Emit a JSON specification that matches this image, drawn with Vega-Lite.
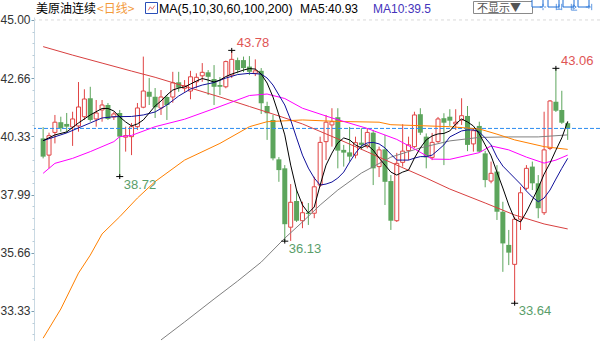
{
"$schema":"https://vega.github.io/schema/vega-lite/v6.json",
"width":566,"height":324,
"padding":{"left":34,"top":17,"right":0,"bottom":0},
"autosize":{"type":"none"},
"background":"white",
"config":{"view":{"stroke":null}},
"resolve":{"axis":{"y":"independent"}},
"datasets":{
"k":[
{"i":0,"o":40.25,"h":40.70,"l":39.45,"c":39.52},
{"i":1,"o":39.58,"h":40.48,"l":39.05,"c":40.36},
{"i":2,"o":40.49,"h":41.19,"l":40.05,"c":40.90},
{"i":3,"o":40.90,"h":41.12,"l":40.52,"c":40.66},
{"i":4,"o":40.83,"h":41.27,"l":40.47,"c":40.72},
{"i":5,"o":40.71,"h":41.32,"l":39.95,"c":41.03},
{"i":6,"o":40.75,"h":42.51,"l":40.52,"c":41.51},
{"i":7,"o":41.12,"h":42.22,"l":40.99,"c":41.83},
{"i":8,"o":41.86,"h":42.32,"l":40.92,"c":40.99},
{"i":9,"o":41.03,"h":41.79,"l":40.72,"c":41.27},
{"i":10,"o":41.39,"h":41.79,"l":40.92,"c":41.59},
{"i":11,"o":41.59,"h":41.67,"l":40.99,"c":41.03},
{"i":12,"o":41.11,"h":41.31,"l":40.99,"c":41.23},
{"i":13,"o":41.27,"h":41.39,"l":38.72,"c":40.32},
{"i":14,"o":40.30,"h":40.72,"l":39.72,"c":40.36},
{"i":15,"o":40.32,"h":40.87,"l":39.58,"c":40.72},
{"i":16,"o":40.72,"h":41.67,"l":40.59,"c":41.47},
{"i":17,"o":41.50,"h":43.53,"l":41.46,"c":42.15},
{"i":18,"o":42.12,"h":42.67,"l":41.59,"c":41.92},
{"i":19,"o":41.92,"h":42.27,"l":41.07,"c":41.50},
{"i":20,"o":41.47,"h":42.19,"l":41.19,"c":41.91},
{"i":21,"o":41.91,"h":41.99,"l":40.99,"c":41.59},
{"i":22,"o":41.91,"h":42.92,"l":41.68,"c":42.48},
{"i":23,"o":42.50,"h":42.92,"l":42.12,"c":42.28},
{"i":24,"o":42.26,"h":42.59,"l":42.12,"c":42.36},
{"i":25,"o":42.15,"h":42.96,"l":41.82,"c":42.72},
{"i":26,"o":42.52,"h":42.86,"l":42.26,"c":42.70},
{"i":27,"o":42.76,"h":43.27,"l":42.52,"c":42.90},
{"i":28,"o":42.90,"h":42.99,"l":41.99,"c":42.72},
{"i":29,"o":42.63,"h":43.19,"l":41.59,"c":42.32},
{"i":30,"o":42.39,"h":42.71,"l":41.99,"c":42.32},
{"i":31,"o":42.32,"h":43.37,"l":42.26,"c":43.33},
{"i":32,"o":42.79,"h":43.78,"l":42.67,"c":43.42},
{"i":33,"o":43.39,"h":43.49,"l":42.86,"c":42.99},
{"i":34,"o":43.39,"h":43.53,"l":42.91,"c":43.07},
{"i":35,"o":43.13,"h":43.55,"l":42.79,"c":42.92},
{"i":36,"o":42.86,"h":43.42,"l":42.75,"c":42.96},
{"i":37,"o":42.96,"h":43.07,"l":41.23,"c":41.66},
{"i":38,"o":41.55,"h":41.72,"l":40.19,"c":41.26},
{"i":39,"o":40.99,"h":41.19,"l":39.37,"c":39.45},
{"i":40,"o":39.41,"h":39.50,"l":38.51,"c":38.98},
{"i":41,"o":39.05,"h":39.18,"l":36.13,"c":36.81},
{"i":42,"o":36.69,"h":38.42,"l":36.14,"c":37.69},
{"i":43,"o":37.74,"h":38.18,"l":36.90,"c":36.95},
{"i":44,"o":36.95,"h":37.71,"l":36.65,"c":37.27},
{"i":45,"o":37.27,"h":37.66,"l":36.78,"c":37.22},
{"i":46,"o":37.25,"h":38.71,"l":37.05,"c":38.31},
{"i":47,"o":38.38,"h":40.32,"l":38.30,"c":40.09},
{"i":48,"o":40.12,"h":41.19,"l":39.38,"c":40.90},
{"i":49,"o":40.79,"h":41.46,"l":39.92,"c":40.92},
{"i":50,"o":41.10,"h":41.46,"l":39.05,"c":39.76},
{"i":51,"o":39.79,"h":39.99,"l":39.12,"c":39.68},
{"i":52,"o":39.69,"h":40.71,"l":39.32,"c":39.52},
{"i":53,"o":39.58,"h":40.32,"l":39.45,"c":40.08},
{"i":54,"o":40.08,"h":40.66,"l":39.79,"c":39.99},
{"i":55,"o":39.92,"h":40.66,"l":39.85,"c":40.49},
{"i":56,"o":40.48,"h":40.59,"l":38.38,"c":39.05},
{"i":57,"o":39.12,"h":39.92,"l":38.70,"c":39.79},
{"i":58,"o":39.81,"h":40.39,"l":37.58,"c":38.51},
{"i":59,"o":38.54,"h":38.78,"l":36.58,"c":36.95},
{"i":60,"o":36.95,"h":39.67,"l":36.90,"c":39.25},
{"i":61,"o":39.29,"h":40.82,"l":39.12,"c":39.74},
{"i":62,"o":39.76,"h":40.32,"l":39.38,"c":39.99},
{"i":63,"o":39.92,"h":41.32,"l":39.87,"c":41.19},
{"i":64,"o":41.22,"h":41.46,"l":40.39,"c":40.48},
{"i":65,"o":40.32,"h":40.45,"l":39.05,"c":39.49},
{"i":66,"o":39.49,"h":40.47,"l":39.38,"c":40.09},
{"i":67,"o":40.12,"h":41.11,"l":40.07,"c":41.03},
{"i":68,"o":41.06,"h":41.26,"l":39.18,"c":40.88},
{"i":69,"o":41.12,"h":41.42,"l":40.75,"c":40.96},
{"i":70,"o":40.83,"h":41.42,"l":40.59,"c":40.90},
{"i":71,"o":40.99,"h":41.86,"l":40.79,"c":41.16},
{"i":72,"o":41.15,"h":41.55,"l":39.74,"c":39.99},
{"i":73,"o":40.03,"h":40.66,"l":39.72,"c":40.56},
{"i":74,"o":40.75,"h":40.92,"l":39.70,"c":39.72},
{"i":75,"o":39.65,"h":39.75,"l":38.29,"c":38.58},
{"i":76,"o":38.54,"h":39.32,"l":38.45,"c":38.85},
{"i":77,"o":38.92,"h":39.18,"l":36.98,"c":37.31},
{"i":78,"o":37.31,"h":37.71,"l":34.90,"c":36.04},
{"i":79,"o":35.98,"h":36.58,"l":35.17,"c":35.67},
{"i":80,"o":35.20,"h":37.11,"l":33.64,"c":37.01},
{"i":81,"o":37.01,"h":38.31,"l":36.58,"c":38.07},
{"i":82,"o":38.25,"h":39.18,"l":38.18,"c":39.05},
{"i":83,"o":39.12,"h":39.32,"l":38.18,"c":38.45},
{"i":84,"o":38.45,"h":38.78,"l":37.05,"c":37.45},
{"i":85,"o":37.27,"h":41.32,"l":37.18,"c":39.79},
{"i":86,"o":39.85,"h":41.79,"l":39.78,"c":41.75},
{"i":87,"o":41.72,"h":43.06,"l":41.31,"c":41.36},
{"i":88,"o":41.39,"h":42.16,"l":40.83,"c":40.88},
{"i":89,"o":40.86,"h":40.92,"l":40.19,"c":40.66}
],
"ma":[
{"m":"MA200","i":0,"v":43.93},{"m":"MA200","i":5,"v":43.59},{"m":"MA200","i":10,"v":43.27},{"m":"MA200","i":15,"v":42.95},{"m":"MA200","i":19,"v":42.70},{"m":"MA200","i":25,"v":42.27},{"m":"MA200","i":30,"v":41.91},{"m":"MA200","i":35,"v":41.53},{"m":"MA200","i":40,"v":41.15},{"m":"MA200","i":44,"v":40.83},{"m":"MA200","i":50,"v":40.23},{"m":"MA200","i":55,"v":39.71},{"m":"MA200","i":60,"v":39.18},{"m":"MA200","i":65,"v":38.66},{"m":"MA200","i":69,"v":38.22},{"m":"MA200","i":75,"v":37.66},{"m":"MA200","i":80,"v":37.18},{"m":"MA200","i":85,"v":36.82},{"m":"MA200","i":89,"v":36.62},
{"m":"MA100","i":20,"v":32.17},{"m":"MA100","i":24,"v":32.89},{"m":"MA100","i":29,"v":33.81},{"m":"MA100","i":33,"v":34.53},{"m":"MA100","i":37,"v":35.29},{"m":"MA100","i":41,"v":36.25},{"m":"MA100","i":44,"v":36.90},{"m":"MA100","i":47,"v":37.58},{"m":"MA100","i":50,"v":38.18},{"m":"MA100","i":54,"v":38.86},{"m":"MA100","i":59,"v":39.50},{"m":"MA100","i":64,"v":39.87},{"m":"MA100","i":69,"v":40.15},{"m":"MA100","i":74,"v":40.29},{"m":"MA100","i":79,"v":40.31},{"m":"MA100","i":84,"v":40.31},{"m":"MA100","i":89,"v":40.39},
{"m":"MA60","i":0,"v":32.24},{"m":"MA60","i":3,"v":33.41},{"m":"MA60","i":6,"v":34.85},{"m":"MA60","i":8,"v":35.57},{"m":"MA60","i":10,"v":36.42},{"m":"MA60","i":13,"v":37.11},{"m":"MA60","i":16,"v":37.86},{"m":"MA60","i":19,"v":38.52},{"m":"MA60","i":24,"v":39.38},{"m":"MA60","i":30,"v":40.05},{"m":"MA60","i":35,"v":40.72},{"m":"MA60","i":38,"v":40.92},{"m":"MA60","i":44,"v":40.99},{"m":"MA60","i":50,"v":40.93},{"m":"MA60","i":57,"v":40.90},{"m":"MA60","i":59,"v":40.80},{"m":"MA60","i":69,"v":40.72},{"m":"MA60","i":74,"v":40.63},{"m":"MA60","i":77,"v":40.42},{"m":"MA60","i":80,"v":40.19},{"m":"MA60","i":85,"v":39.92},{"m":"MA60","i":89,"v":39.81},
{"m":"MA30","i":0,"v":38.85},{"m":"MA30","i":2,"v":39.25},{"m":"MA30","i":5,"v":39.45},{"m":"MA30","i":8,"v":39.72},{"m":"MA30","i":12,"v":40.12},{"m":"MA30","i":13,"v":40.32},{"m":"MA30","i":15,"v":40.37},{"m":"MA30","i":19,"v":40.72},{"m":"MA30","i":24,"v":41.02},{"m":"MA30","i":30,"v":41.53},{"m":"MA30","i":35,"v":41.97},{"m":"MA30","i":38,"v":42.03},{"m":"MA30","i":41,"v":41.85},{"m":"MA30","i":44,"v":41.46},{"m":"MA30","i":49,"v":41.07},{"m":"MA30","i":55,"v":40.65},{"m":"MA30","i":60,"v":40.21},{"m":"MA30","i":63,"v":39.83},{"m":"MA30","i":66,"v":39.42},{"m":"MA30","i":69,"v":39.41},{"m":"MA30","i":74,"v":39.68},{"m":"MA30","i":76,"v":39.95},{"m":"MA30","i":79,"v":39.79},{"m":"MA30","i":82,"v":39.50},{"m":"MA30","i":85,"v":39.26},{"m":"MA30","i":87,"v":39.38},{"m":"MA30","i":89,"v":39.58},
{"m":"MA10","i":0,"v":40.16},{"m":"MA10","i":4,"v":40.47},{"m":"MA10","i":6,"v":40.67},{"m":"MA10","i":8,"v":40.87},{"m":"MA10","i":10,"v":41.07},{"m":"MA10","i":12,"v":41.12},{"m":"MA10","i":15,"v":41.13},{"m":"MA10","i":17,"v":41.19},{"m":"MA10","i":19,"v":41.31},{"m":"MA10","i":21,"v":41.59},{"m":"MA10","i":23,"v":41.95},{"m":"MA10","i":25,"v":42.23},{"m":"MA10","i":27,"v":42.39},{"m":"MA10","i":29,"v":42.49},{"m":"MA10","i":31,"v":42.67},{"m":"MA10","i":33,"v":42.81},{"m":"MA10","i":35,"v":42.86},{"m":"MA10","i":37,"v":42.83},{"m":"MA10","i":38,"v":42.67},{"m":"MA10","i":39,"v":42.39},{"m":"MA10","i":40,"v":41.99},{"m":"MA10","i":41,"v":41.59},{"m":"MA10","i":42,"v":40.99},{"m":"MA10","i":43,"v":40.27},{"m":"MA10","i":44,"v":39.58},{"m":"MA10","i":45,"v":39.06},{"m":"MA10","i":46,"v":38.66},{"m":"MA10","i":47,"v":38.38},{"m":"MA10","i":48,"v":38.42},{"m":"MA10","i":49,"v":38.50},{"m":"MA10","i":50,"v":38.66},{"m":"MA10","i":51,"v":38.90},{"m":"MA10","i":52,"v":39.30},{"m":"MA10","i":53,"v":39.66},{"m":"MA10","i":54,"v":39.95},{"m":"MA10","i":55,"v":40.07},{"m":"MA10","i":56,"v":40.09},{"m":"MA10","i":57,"v":40.03},{"m":"MA10","i":58,"v":39.87},{"m":"MA10","i":59,"v":39.62},{"m":"MA10","i":60,"v":39.38},{"m":"MA10","i":61,"v":39.38},{"m":"MA10","i":62,"v":39.38},{"m":"MA10","i":63,"v":39.46},{"m":"MA10","i":64,"v":39.52},{"m":"MA10","i":65,"v":39.52},{"m":"MA10","i":66,"v":39.58},{"m":"MA10","i":67,"v":39.78},{"m":"MA10","i":68,"v":39.99},{"m":"MA10","i":69,"v":40.31},{"m":"MA10","i":70,"v":40.43},{"m":"MA10","i":71,"v":40.55},{"m":"MA10","i":72,"v":40.59},{"m":"MA10","i":73,"v":40.59},{"m":"MA10","i":74,"v":40.51},{"m":"MA10","i":75,"v":40.27},{"m":"MA10","i":76,"v":39.99},{"m":"MA10","i":77,"v":39.50},{"m":"MA10","i":78,"v":39.14},{"m":"MA10","i":79,"v":38.90},{"m":"MA10","i":80,"v":38.66},{"m":"MA10","i":81,"v":38.42},{"m":"MA10","i":82,"v":38.14},{"m":"MA10","i":83,"v":37.90},{"m":"MA10","i":84,"v":37.71},{"m":"MA10","i":85,"v":37.86},{"m":"MA10","i":86,"v":38.18},{"m":"MA10","i":87,"v":38.62},{"m":"MA10","i":88,"v":39.05},{"m":"MA10","i":89,"v":39.45},
{"m":"MA5","i":0,"v":40.16},{"m":"MA5","i":2,"v":40.39},{"m":"MA5","i":4,"v":40.51},{"m":"MA5","i":6,"v":40.87},{"m":"MA5","i":8,"v":41.19},{"m":"MA5","i":10,"v":41.45},{"m":"MA5","i":11,"v":41.45},{"m":"MA5","i":12,"v":41.35},{"m":"MA5","i":13,"v":41.11},{"m":"MA5","i":14,"v":40.91},{"m":"MA5","i":15,"v":40.75},{"m":"MA5","i":16,"v":40.83},{"m":"MA5","i":17,"v":40.99},{"m":"MA5","i":18,"v":41.27},{"m":"MA5","i":19,"v":41.55},{"m":"MA5","i":20,"v":41.75},{"m":"MA5","i":21,"v":41.99},{"m":"MA5","i":22,"v":42.19},{"m":"MA5","i":23,"v":42.27},{"m":"MA5","i":24,"v":42.31},{"m":"MA5","i":25,"v":42.43},{"m":"MA5","i":26,"v":42.55},{"m":"MA5","i":27,"v":42.65},{"m":"MA5","i":28,"v":42.59},{"m":"MA5","i":29,"v":42.51},{"m":"MA5","i":30,"v":42.59},{"m":"MA5","i":31,"v":42.73},{"m":"MA5","i":32,"v":42.83},{"m":"MA5","i":33,"v":42.91},{"m":"MA5","i":34,"v":42.99},{"m":"MA5","i":35,"v":43.05},{"m":"MA5","i":36,"v":43.03},{"m":"MA5","i":37,"v":42.83},{"m":"MA5","i":38,"v":42.47},{"m":"MA5","i":39,"v":41.91},{"m":"MA5","i":40,"v":41.19},{"m":"MA5","i":41,"v":40.39},{"m":"MA5","i":42,"v":39.18},{"m":"MA5","i":43,"v":38.18},{"m":"MA5","i":44,"v":37.58},{"m":"MA5","i":45,"v":37.26},{"m":"MA5","i":46,"v":37.50},{"m":"MA5","i":47,"v":38.38},{"m":"MA5","i":48,"v":39.18},{"m":"MA5","i":49,"v":39.66},{"m":"MA5","i":50,"v":40.07},{"m":"MA5","i":51,"v":40.27},{"m":"MA5","i":52,"v":40.19},{"m":"MA5","i":53,"v":39.99},{"m":"MA5","i":54,"v":39.87},{"m":"MA5","i":55,"v":39.99},{"m":"MA5","i":56,"v":39.78},{"m":"MA5","i":57,"v":39.46},{"m":"MA5","i":58,"v":39.18},{"m":"MA5","i":59,"v":38.90},{"m":"MA5","i":60,"v":38.78},{"m":"MA5","i":61,"v":38.90},{"m":"MA5","i":62,"v":38.98},{"m":"MA5","i":63,"v":39.46},{"m":"MA5","i":64,"v":39.87},{"m":"MA5","i":65,"v":40.19},{"m":"MA5","i":66,"v":40.35},{"m":"MA5","i":67,"v":40.43},{"m":"MA5","i":68,"v":40.45},{"m":"MA5","i":69,"v":40.55},{"m":"MA5","i":70,"v":40.83},{"m":"MA5","i":71,"v":41.03},{"m":"MA5","i":72,"v":40.91},{"m":"MA5","i":73,"v":40.75},{"m":"MA5","i":74,"v":40.43},{"m":"MA5","i":75,"v":39.99},{"m":"MA5","i":76,"v":39.55},{"m":"MA5","i":77,"v":38.90},{"m":"MA5","i":78,"v":38.26},{"m":"MA5","i":79,"v":37.58},{"m":"MA5","i":80,"v":37.02},{"m":"MA5","i":81,"v":36.90},{"m":"MA5","i":82,"v":37.30},{"m":"MA5","i":83,"v":37.78},{"m":"MA5","i":84,"v":38.26},{"m":"MA5","i":85,"v":38.82},{"m":"MA5","i":86,"v":39.26},{"m":"MA5","i":87,"v":39.78},{"m":"MA5","i":88,"v":40.27},{"m":"MA5","i":89,"v":40.93}
],
"ext":[
{"i":13,"v":38.72,"k":"low"},{"i":32,"v":43.78,"k":"high"},{"i":41,"v":36.13,"k":"low"},{"i":80,"v":33.64,"k":"low"},{"i":87,"v":43.06,"k":"high"}
]
},
"layer":[
{"data":{"values":[{"v":45}]},
 "mark":{"type":"rule","color":"#d9d9d9","strokeDash":[3,3],"strokeWidth":1},
 "encoding":{"y":{"field":"v","type":"quantitative","title":null,
   "scale":{"domain":[32.127,45.118],"nice":false,"zero":false},
   "axis":{"orient":"left","title":null,"grid":false,
     "values":[45,42.66,40.33,37.99,35.66,33.33],"format":".2f",
     "labelOverlap":false,"labelFont":"Liberation Sans","labelFontSize":12,"labelColor":"#333333","labelPadding":1,
     "domainColor":"#c9d9e3","domainWidth":1,"tickColor":"#7d9db0","tickSize":3}}}},
{"data":{"values":[{"v":40.65}]},
 "mark":{"type":"rule","color":"#2b8cf0","strokeDash":[4,2],"strokeWidth":1,"opacity":0},
 "encoding":{"y":{"field":"v","type":"quantitative","title":null,"scale":{"domain":[32.127,45.118],"nice":false,"zero":false},
   "axis":{"orient":"left","title":null,"grid":false,"labels":false,"domain":false,
     "values":[44.533,44.067,43.6,43.133,42.2,41.733,41.267,40.8,39.867,39.4,38.933,38.467,37.533,37.067,36.6,36.133,35.2,34.733,34.267,33.8,32.867,32.4],
     "tickColor":"#b9ccd8","tickSize":2}}}},
{"data":{"name":"k"},"transform":[{"filter":"datum.c < datum.o"}],
 "mark":{"type":"rule","color":"#5ca55c","strokeWidth":1},
 "encoding":{"x":{"field":"i","type":"quantitative","axis":null,"scale":{"domain":[-0.7,93.633],"nice":false,"zero":false}},
   "y":{"field":"l","type":"quantitative","axis":null,"scale":{"domain":[32.127,45.118],"nice":false,"zero":false}},
   "y2":{"field":"h"}}},
{"data":{"name":"k"},"transform":[{"filter":"datum.c >= datum.o"}],
 "mark":{"type":"rule","color":"#e04444","strokeWidth":1},
 "encoding":{"x":{"field":"i","type":"quantitative","axis":null,"scale":{"domain":[-0.7,93.633],"nice":false,"zero":false}},
   "y":{"field":"l","type":"quantitative","axis":null,"scale":{"domain":[32.127,45.118],"nice":false,"zero":false}},
   "y2":{"field":"h"}}},
{"data":{"name":"k"},"transform":[{"filter":"datum.c < datum.o"}],
 "mark":{"type":"bar","color":"#5ca55c","size":5},
 "encoding":{"x":{"field":"i","type":"quantitative","axis":null,"scale":{"domain":[-0.7,93.633],"nice":false,"zero":false}},
   "y":{"field":"o","type":"quantitative","axis":null,"scale":{"domain":[32.127,45.118],"nice":false,"zero":false}},
   "y2":{"field":"c"}}},
{"data":{"name":"k"},"transform":[{"filter":"datum.c >= datum.o"}],
 "mark":{"type":"bar","fill":"#ffffff","stroke":"#e04444","strokeWidth":1,"size":4},
 "encoding":{"x":{"field":"i","type":"quantitative","axis":null,"scale":{"domain":[-0.7,93.633],"nice":false,"zero":false}},
   "y":{"field":"o","type":"quantitative","axis":null,"scale":{"domain":[32.127,45.118],"nice":false,"zero":false}},
   "y2":{"field":"c"}}},
{"data":{"values":[{"v":40.65}]},
 "mark":{"type":"rule","color":"#2b8cf0","strokeDash":[4,2],"strokeWidth":1},
 "encoding":{"y":{"field":"v","type":"quantitative","axis":null,"scale":{"domain":[32.127,45.118],"nice":false,"zero":false}}}},
{"data":{"name":"ma"},
 "mark":{"type":"line","strokeWidth":1,"clip":true},
 "encoding":{"x":{"field":"i","type":"quantitative","axis":null,"scale":{"domain":[-0.7,93.633],"nice":false,"zero":false}},
   "y":{"field":"v","type":"quantitative","axis":null,"scale":{"domain":[32.127,45.118],"nice":false,"zero":false}},
   "color":{"field":"m","type":"nominal","legend":null,
     "scale":{"domain":["MA5","MA10","MA30","MA60","MA100","MA200"],"range":["#000000","#10109a","#ff00ff","#ff8000","#808080","#d84040"]}},
   "order":{"field":"i","type":"quantitative"}}},
{"data":{"name":"ext"},
 "mark":{"type":"point","shape":"M-1,0L1,0M0,-0.7L0,0.7","size":49,"filled":false,"stroke":"#000000","strokeWidth":1,"opacity":1},
 "encoding":{"x":{"field":"i","type":"quantitative","axis":null,"scale":{"domain":[-0.7,93.633],"nice":false,"zero":false}},
   "y":{"field":"v","type":"quantitative","axis":null,"scale":{"domain":[32.127,45.118],"nice":false,"zero":false}}}},
{"data":{"name":"ext"},"transform":[{"filter":"datum.k == 'high'"}],
 "mark":{"type":"text","align":"left","baseline":"alphabetic","dx":5,"dy":-3,"font":"Liberation Sans","fontSize":13,"color":"#e05555"},
 "encoding":{"x":{"field":"i","type":"quantitative","axis":null,"scale":{"domain":[-0.7,93.633],"nice":false,"zero":false}},
   "y":{"field":"v","type":"quantitative","axis":null,"scale":{"domain":[32.127,45.118],"nice":false,"zero":false}},
   "text":{"field":"v","type":"quantitative","format":".2f"}}},
{"data":{"name":"ext"},"transform":[{"filter":"datum.k == 'low'"}],
 "mark":{"type":"text","align":"left","baseline":"alphabetic","dx":4,"dy":12,"font":"Liberation Sans","fontSize":13,"color":"#5a9e6a"},
 "encoding":{"x":{"field":"i","type":"quantitative","axis":null,"scale":{"domain":[-0.7,93.633],"nice":false,"zero":false}},
   "y":{"field":"v","type":"quantitative","axis":null,"scale":{"domain":[32.127,45.118],"nice":false,"zero":false}},
   "text":{"field":"v","type":"quantitative","format":".2f"}}},
{"data":{"values":[{}]},"mark":{"type":"text","text":"美原油连续","align":"left","baseline":"alphabetic","font":"Noto Sans CJK SC","fontSize":12,"color":"#000000"},
 "encoding":{"x":{"value":2},"y":{"value":-4}}},
{"data":{"values":[{}]},"mark":{"type":"text","text":"<日线>","align":"left","baseline":"alphabetic","font":"Noto Sans CJK SC","fontSize":12,"color":"#f39a3a"},
 "encoding":{"x":{"value":63},"y":{"value":-4}}},
{"data":{"values":[{}]},"mark":{"type":"rect","fill":"#ffffff","stroke":"#2a4fb8","strokeWidth":1},
 "encoding":{"x":{"value":111.5},"x2":{"value":123.5},"y":{"value":-14.5},"y2":{"value":-3.5}}},
{"data":{"values":[{}]},"mark":{"type":"point","shape":"M-0.8,0.6L-0.3,-0.3L0.2,0.3L0.8,-0.6","size":64,"filled":false,"stroke":"#d83030","strokeWidth":1},
 "encoding":{"x":{"value":117.5},"y":{"value":-9}}},
{"data":{"values":[{}]},"mark":{"type":"text","text":"MA(5,10,30,60,100,200)","align":"left","baseline":"alphabetic","font":"Liberation Sans","fontSize":12.4,"color":"#000000"},
 "encoding":{"x":{"value":125},"y":{"value":-4}}},
{"data":{"values":[{}]},"mark":{"type":"text","text":"MA5:40.93","align":"left","baseline":"alphabetic","font":"Liberation Sans","fontSize":12,"color":"#000000"},
 "encoding":{"x":{"value":266},"y":{"value":-4}}},
{"data":{"values":[{}]},"mark":{"type":"text","text":"MA10:39.5","align":"left","baseline":"alphabetic","font":"Liberation Sans","fontSize":12,"color":"#4433bb"},
 "encoding":{"x":{"value":339},"y":{"value":-4}}},
{"data":{"values":[{}]},"mark":{"type":"rect","fill":"#ffffff","stroke":"#8a8a8a","strokeWidth":1},
 "encoding":{"x":{"value":439.5},"x2":{"value":498.5},"y":{"value":-15.5},"y2":{"value":-3.5}}},
{"data":{"values":[{}]},"mark":{"type":"text","text":"不显示▼","align":"left","baseline":"alphabetic","font":"Noto Sans CJK SC","fontSize":11,"color":"#555555"},
 "encoding":{"x":{"value":443},"y":{"value":-5}}},
{"data":{"values":[{"a":503.5},{"a":519.5},{"a":534.5},{"a":549.5}]},"mark":{"type":"rect","fill":"#ffffff","stroke":"#1f6fd6","strokeWidth":1,"width":11,"height":11},
 "encoding":{"x":{"field":"a","type":"quantitative","scale":null,"axis":null},"y":{"value":-15.5}}},
{"data":{"values":[{}]},"mark":{"type":"point","shape":"M-0.7,0L-0.25,0M0.25,0L0.7,0M0,-0.7L0,-0.25M0,0.25L0,0.7","size":81,"filled":false,"stroke":"#1f6fd6","strokeWidth":1},
 "encoding":{"x":{"value":509},"y":{"value":-10}}},
{"data":{"values":[{}]},"mark":{"type":"point","shape":"M-0.6,-0.7L-0.6,0.7M0.6,-0.7L0.6,0.7M-0.6,0.5L0.6,0.5M0,-0.6L0,0.5","size":81,"filled":false,"stroke":"#1f6fd6","strokeWidth":1},
 "encoding":{"x":{"value":525},"y":{"value":-10}}},
{"data":{"values":[{}]},"mark":{"type":"point","shape":"M-0.6,-0.7L-0.6,0.7L0.7,0.7M-0.2,-0.5L0.5,0L-0.2,0.5Z","size":81,"filled":false,"stroke":"#1f6fd6","strokeWidth":1},
 "encoding":{"x":{"value":540},"y":{"value":-10}}},
{"data":{"values":[{}]},"mark":{"type":"point","shape":"M0.6,-0.7L0.6,0.7M-0.7,0L0.3,0M-0.1,-0.4L0.3,0L-0.1,0.4","size":81,"filled":false,"stroke":"#1f6fd6","strokeWidth":1},
 "encoding":{"x":{"value":555},"y":{"value":-10}}}
]
}
